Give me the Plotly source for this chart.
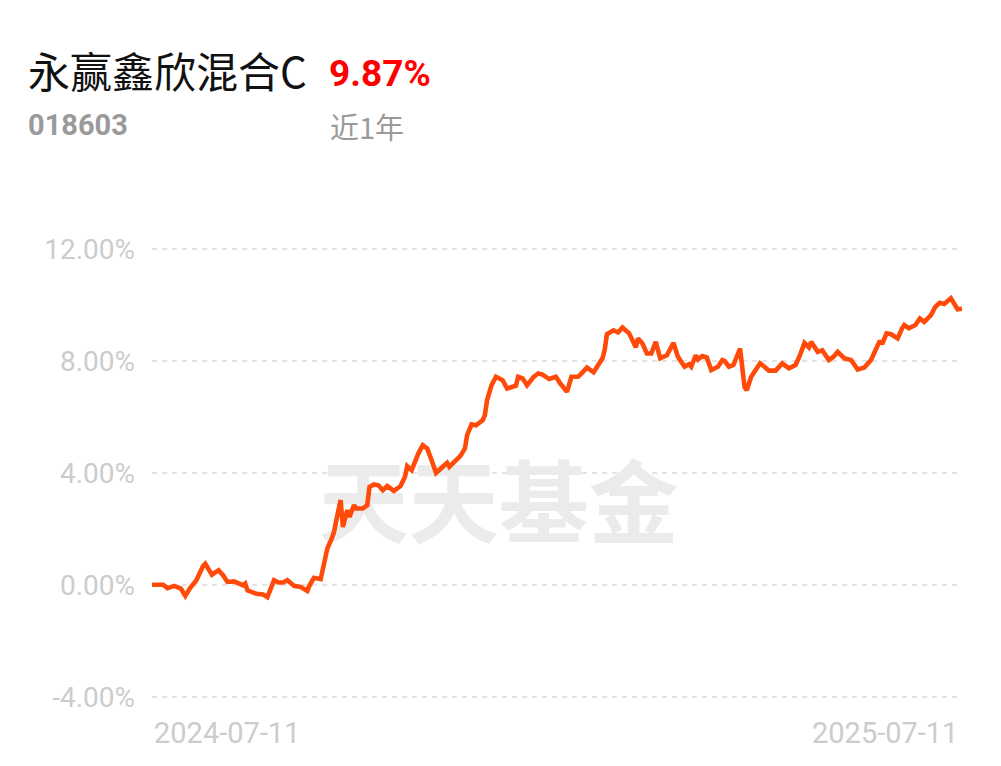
import pandas as pd
import plotly.graph_objects as go

# ---- data ----
fund_name = "永赢鑫欣混合C"
fund_code = "018603"
period_return = "9.87%"
period_label = "近1年"
watermark = "天天基金"
start_date = "2024-07-11"
end_date = "2025-07-11"

day_offsets = [
    0, 5, 7, 10, 13, 15, 17, 20, 23, 24, 27, 30, 32, 34, 37, 41, 42, 43, 47, 50,
    52, 53, 55, 57, 59, 61, 64, 67, 70, 71, 73, 76, 78, 79, 81, 82, 84, 85, 86, 88,
    89, 91, 92, 95, 97, 98, 100, 102, 104, 106, 109, 112, 114, 115, 117, 119, 120, 122, 124, 126,
    128, 131, 133, 134, 137, 139, 141, 142, 144, 146, 149, 150, 151, 153, 155, 158, 160, 162, 164, 165,
    167, 169, 172, 174, 176, 179, 182, 184, 187, 189, 192, 194, 196, 199, 201, 203, 204, 205, 208, 210,
    212, 214, 215, 218, 219, 221, 223, 225, 227, 229, 232, 235, 237, 240, 242, 243, 245, 246, 248, 250,
    252, 255, 257, 258, 260, 262, 265, 267, 268, 270, 274, 276, 278, 281, 284, 287, 290, 292, 294, 296,
    297, 300, 302, 305, 307, 309, 312, 315, 318, 321, 324, 326, 328, 329, 331, 333, 336, 338, 339, 341,
    344, 346, 348, 351, 353, 355, 357, 360, 362, 363, 365,
]
returns_pct = [
    0.02, 0.02, -0.10, -0.02, -0.12, -0.38, -0.12, 0.18, 0.69, 0.77, 0.38, 0.54, 0.36, 0.12, 0.14, 0.00, 0.06, -0.18, -0.30, -0.33,
    -0.42, -0.18, 0.18, 0.10, 0.10, 0.18, -0.02, -0.06, -0.20, 0.00, 0.27, 0.22, 0.89, 1.31, 1.67, 1.90, 2.68, 3.04, 2.08, 2.68,
    2.44, 2.86, 2.74, 2.74, 2.86, 3.51, 3.60, 3.57, 3.39, 3.54, 3.37, 3.54, 3.87, 4.25, 4.11, 4.52, 4.70, 5.00, 4.88, 4.46,
    4.01, 4.23, 4.37, 4.23, 4.45, 4.62, 4.88, 5.36, 5.74, 5.71, 5.89, 6.07, 6.61, 7.14, 7.44, 7.32, 7.02, 7.08, 7.12, 7.44,
    7.38, 7.14, 7.44, 7.56, 7.52, 7.36, 7.44, 7.20, 6.90, 7.44, 7.44, 7.60, 7.77, 7.60, 7.86, 8.10, 8.40, 8.96, 9.10, 9.02,
    9.20, 9.05, 8.99, 8.49, 8.81, 8.63, 8.27, 8.27, 8.69, 8.10, 8.21, 8.65, 8.15, 7.80, 7.89, 7.80, 8.21, 8.06, 8.18, 8.13,
    7.68, 7.80, 8.04, 8.01, 7.80, 7.86, 8.45, 7.08, 6.96, 7.44, 7.92, 7.80, 7.66, 7.66, 7.92, 7.74, 7.86, 8.21, 8.65, 8.49,
    8.69, 8.33, 8.39, 8.04, 8.15, 8.33, 8.10, 8.04, 7.70, 7.77, 8.04, 8.39, 8.73, 8.61, 8.99, 8.96, 8.81, 9.17, 9.29, 9.17,
    9.29, 9.52, 9.40, 9.64, 9.94, 10.08, 10.04, 10.24, 10.00, 9.85, 9.87,
]
y_tick_values = [-4, 0, 4, 8, 12]
y_tick_labels = ["-4.00%", "0.00%", "4.00%", "8.00%", "12.00%"]

# ---- build ----
start = pd.Timestamp(start_date)
end = pd.Timestamp(end_date)
dates = [start + pd.Timedelta(days=d) for d in day_offsets]

LINE = "#ff4a0a"
TICK = "#cccccc"
GRID = "#e3e3e3"

fig = go.Figure()

# watermark drawn first so the line sits above it
wm_x = start + (end - start) * 0.428
fig.add_trace(go.Scatter(
    x=[wm_x], y=[2.57], mode="text", text=[watermark],
    textfont=dict(family="Noto Sans CJK SC", size=90, color="#ebebeb", weight="bold"),
    hoverinfo="skip", showlegend=False,
))

fig.add_trace(go.Scatter(
    x=dates, y=returns_pct, mode="lines",
    line=dict(color=LINE, width=4.6, shape="linear"),
    hoverinfo="skip", showlegend=False,
))

fig.update_layout(
    width=1001, height=766,
    margin=dict(l=152, r=39, t=235, b=63),
    paper_bgcolor="white", plot_bgcolor="white",
    showlegend=False,
    xaxis=dict(
        range=[start, end], showgrid=False, zeroline=False, showline=False,
        showticklabels=False, ticks="",
    ),
    yaxis=dict(
        range=[-4.2, 12.5], tickvals=y_tick_values, ticktext=y_tick_labels,
        showgrid=True, gridcolor=GRID, gridwidth=2, griddash="5px,5px",
        zeroline=False, showline=False, ticks="",
        ticklabelstandoff=16,
        tickfont=dict(family="Roboto", size=28, color=TICK),
    ),
    font=dict(family="Roboto"),
)

ann = []
ann.append(dict(text=fund_name, xref="paper", yref="paper", x=(26 - 152) / 810, y=1.0,
                xanchor="left", yanchor="middle", yshift=235 - 69, showarrow=False,
                font=dict(family="Noto Sans CJK SC", size=42, color="#111111")))
ann.append(dict(text="<b>" + period_return + "</b>", xref="paper", yref="paper", x=(327 - 152) / 810, y=1.0,
                xanchor="left", yanchor="middle", yshift=235 - 73, showarrow=False,
                font=dict(family="Roboto", size=37, color="#ff0000")))
ann.append(dict(text="<b>" + fund_code + "</b>", xref="paper", yref="paper", x=(26 - 152) / 810, y=1.0,
                xanchor="left", yanchor="middle", yshift=235 - 125, showarrow=False,
                font=dict(family="Roboto", size=29, color="#9a9a9a")))
ann.append(dict(text=period_label, xref="paper", yref="paper", x=(328 - 152) / 810, y=1.0,
                xanchor="left", yanchor="middle", yshift=235 - 126, showarrow=False,
                font=dict(family="Noto Sans CJK SC", size=29, color="#9a9a9a")))
ann.append(dict(text=start_date, xref="paper", yref="paper", x=0, y=0,
                xanchor="left", yanchor="middle", yshift=-(733 - 703), xshift=0, showarrow=False,
                font=dict(family="Roboto", size=29, color=TICK)))
ann.append(dict(text=end_date, xref="paper", yref="paper", x=1, y=0,
                xanchor="right", yanchor="middle", yshift=-(733 - 703), xshift=-2, showarrow=False,
                font=dict(family="Roboto", size=29, color=TICK)))
fig.update_layout(annotations=ann)

fig.write_html("out.html", config={"displayModeBar": False})

# remove the default page margin so the figure sits at the window's top-left corner
with open("out.html", "r", encoding="utf-8") as f:
    html = f.read()
html = html.replace("<body>", '<body style="margin:0;padding:0;">', 1)
with open("out.html", "w", encoding="utf-8") as f:
    f.write(html)
